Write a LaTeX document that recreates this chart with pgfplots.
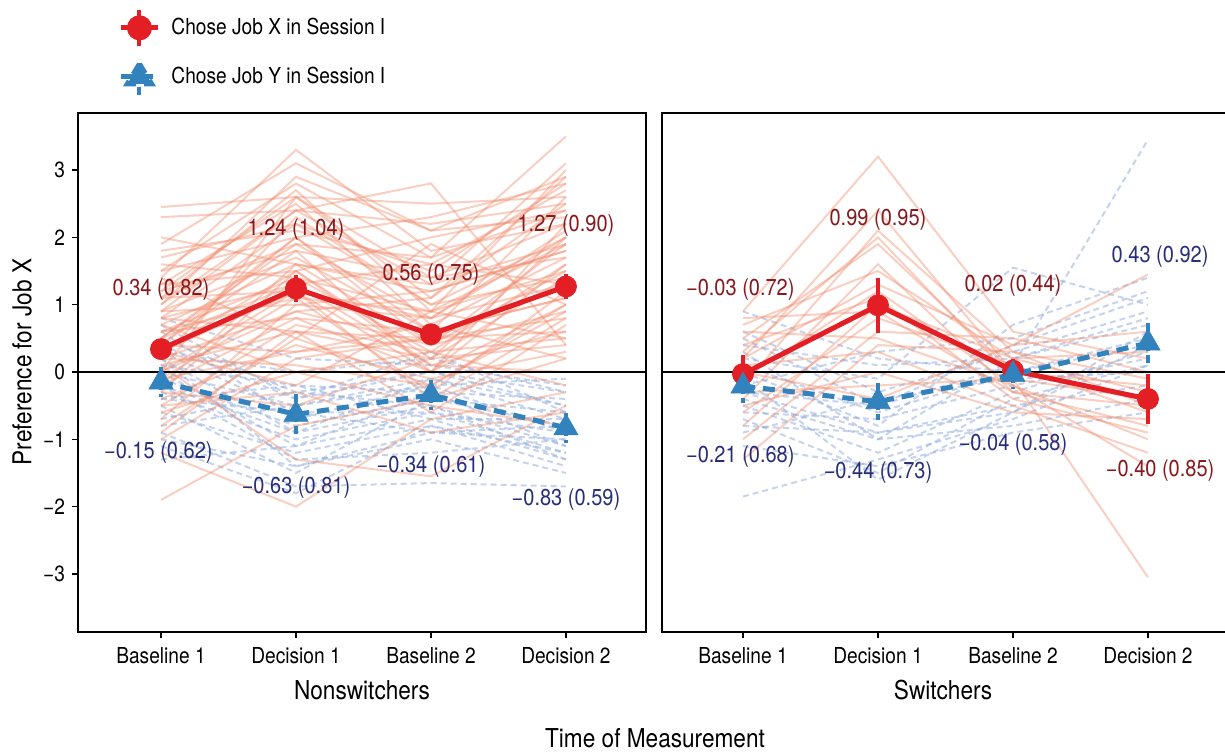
\documentclass[border=0pt]{standalone}
\usepackage{fontspec}
\setmainfont[FakeStretch=0.87]{TeX Gyre Heros}
\usepackage{pgfplots}
\pgfplotsset{compat=1.18}
\definecolor{mred}{RGB}{227,30,36}
\definecolor{mblue}{RGB}{50,130,190}
\definecolor{lred}{RGB}{240,140,110}
\definecolor{lblue}{RGB}{150,175,220}
\definecolor{tred}{RGB}{135,25,30}
\definecolor{tblue}{RGB}{40,45,120}
\newcommand\fs{\fontsize{11}{13}\selectfont}
\newcommand\fl{\fontsize{11.5}{13}\selectfont}
\newcommand\ft{\fontsize{13}{15}\selectfont}
\pgfplotsset{
  panel/.style={scale only axis, height=259.5pt, ymin=-3.862, ymax=3.847,
    xtick={1,2,3,4}, xticklabels={Baseline 1,Decision 1,Baseline 2,Decision 2},
    xtick pos=bottom, ytick pos=left, tick align=outside, major tick length=3pt,
    tick style={black, line width=0.75pt}, axis line style={line width=1.2pt},
    every tick label/.append style={font=\fs},
    xticklabel style={yshift=-1pt},
    /pgf/number format/assume math mode=true},
  br/.style={lred, opacity=0.42, line width=1pt, no markers, forget plot},
  bb/.style={lblue, opacity=0.55, line width=1pt, dash pattern=on 3pt off 2pt, no markers, forget plot},
  mr/.style={mred, line width=2.5pt, mark=*, mark size=5.3pt, mark options={solid, fill=mred, line width=0.3pt},
    error bars/.cd, y dir=both, y explicit, error mark=none, error bar style={line width=2pt, mred, solid}},
  mb/.style={mblue, line width=2.5pt, dash pattern=on 6pt off 4pt, mark=triangle*, mark size=7pt, mark options={solid, fill=mblue, line width=0.3pt},
    error bars/.cd, y dir=both, y explicit, error mark=none, error bar style={line width=2pt, mblue, dash pattern=on 4pt off 2pt}},
  zl/.style={black, line width=1.4pt, no markers, forget plot},
}
\begin{document}
\begin{tikzpicture}
\useasboundingbox (0,0) rectangle (612.5pt,375.5pt);
% ---------------- Left panel: Nonswitchers ----------------
\begin{axis}[panel, at={(39pt,59.5pt)}, anchor=south west, width=284pt,
  xmin=0.385, xmax=4.593, ytick={-3,-2,-1,0,1,2,3}, yticklabels={−3,−2,−1,0,1,2,3},
  legend style={at={(axis description cs:0.06,1.211)}, anchor=north west, draw=none, fill=none,
    font=\fs, row sep=4.5pt, legend cell align=left,
    /tikz/every odd column/.append style={column sep=3.5pt}}]
% individual participants, chose Job Y (blue)
\addplot[bb] coordinates {(1,-0.9)(2,-1.7)(3,-1.65)(4,-1.7)};
\addplot[bb] coordinates {(1,0.5)(2,-0.3)(3,0.0)(4,-0.5)};
\addplot[bb] coordinates {(1,-0.3)(2,-1.0)(3,-0.6)(4,-1.2)};
\addplot[bb] coordinates {(1,0.0)(2,-0.5)(3,-0.2)(4,-0.9)};
\addplot[bb] coordinates {(1,-0.6)(2,-1.2)(3,-0.8)(4,-1.4)};
\addplot[bb] coordinates {(1,0.3)(2,0.0)(3,0.2)(4,-0.3)};
\addplot[bb] coordinates {(1,-0.1)(2,-0.8)(3,-0.4)(4,-0.6)};
\addplot[bb] coordinates {(1,-1.0)(2,-1.4)(3,-1.0)(4,-1.5)};
\addplot[bb] coordinates {(1,0.8)(2,0.2)(3,0.1)(4,-0.2)};
\addplot[bb] coordinates {(1,-0.4)(2,-0.6)(3,-0.9)(4,-1.0)};
\addplot[bb] coordinates {(1,0.2)(2,-0.9)(3,-0.1)(4,-0.7)};
\addplot[bb] coordinates {(1,-0.7)(2,-0.3)(3,-0.5)(4,-1.1)};
\addplot[bb] coordinates {(1,-1.3)(2,-1.1)(3,-0.7)(4,-1.3)};
\addplot[bb] coordinates {(1,0.1)(2,-0.2)(3,-0.3)(4,-0.4)};
\addplot[bb] coordinates {(1,-0.5)(2,-1.5)(3,-0.4)(4,-0.8)};
\addplot[bb] coordinates {(1,0.6)(2,-0.7)(3,-0.2)(4,-0.1)};
\addplot[bb] coordinates {(1,-0.2)(2,-1.3)(3,-1.2)(4,-1.0)};
\addplot[bb] coordinates {(1,0.4)(2,-0.4)(3,0.3)(4,-0.6)};
\addplot[bb] coordinates {(1,-0.2)(2,-0.9)(3,-0.5)(4,-1.3)};
\addplot[bb] coordinates {(1,0.3)(2,-0.6)(3,-0.6)(4,-0.9)};
\addplot[bb] coordinates {(1,-0.8)(2,-0.5)(3,-0.1)(4,-0.5)};
\addplot[bb] coordinates {(1,0.0)(2,-1.1)(3,-0.3)(4,-1.1)};
\addplot[bb] coordinates {(1,-0.4)(2,-0.2)(3,-0.7)(4,-0.7)};
\addplot[bb] coordinates {(1,0.7)(2,-0.4)(3,0.0)(4,-0.3)};
\addplot[bb] coordinates {(1,-1.1)(2,-1.8)(3,-0.8)(4,-1.2)};
\addplot[bb] coordinates {(1,0.2)(2,-1.4)(3,-0.9)(4,-0.8)};
% individual participants, chose Job X (red)
\addplot[br] coordinates {(1,2.45)(2,2.6)(3,2.5)(4,2.6)};
\addplot[br] coordinates {(1,2.3)(2,2.4)(3,2.2)(4,2.5)};
\addplot[br] coordinates {(1,1.0)(2,2.4)(3,2.8)(4,0.4)};
\addplot[br] coordinates {(1,1.4)(2,3.3)(3,1.8)(4,2.2)};
\addplot[br] coordinates {(1,1.9)(2,3.1)(3,2.1)(4,2.9)};
\addplot[br] coordinates {(1,1.5)(2,2.8)(3,1.7)(4,3.5)};
\addplot[br] coordinates {(1,1.1)(2,2.7)(3,0.9)(4,3.0)};
\addplot[br] coordinates {(1,0.8)(2,2.2)(3,1.5)(4,2.8)};
\addplot[br] coordinates {(1,0.5)(2,2.0)(3,0.6)(4,2.6)};
\addplot[br] coordinates {(1,1.2)(2,1.8)(3,1.4)(4,2.2)};
\addplot[br] coordinates {(1,0.3)(2,1.5)(3,0.2)(4,2.0)};
\addplot[br] coordinates {(1,0.9)(2,1.0)(3,1.2)(4,1.8)};
\addplot[br] coordinates {(1,-0.2)(2,1.6)(3,0.4)(4,1.5)};
\addplot[br] coordinates {(1,0.0)(2,1.2)(3,0.8)(4,1.3)};
\addplot[br] coordinates {(1,0.6)(2,0.8)(3,0.0)(4,1.0)};
\addplot[br] coordinates {(1,-0.5)(2,0.7)(3,0.3)(4,1.6)};
\addplot[br] coordinates {(1,0.4)(2,0.3)(3,0.5)(4,0.8)};
\addplot[br] coordinates {(1,-0.8)(2,0.5)(3,-0.2)(4,0.9)};
\addplot[br] coordinates {(1,0.2)(2,2.3)(3,1.0)(4,1.4)};
\addplot[br] coordinates {(1,-1.0)(2,0.2)(3,0.5)(4,0.6)};
\addplot[br] coordinates {(1,1.6)(2,1.4)(3,0.9)(4,1.9)};
\addplot[br] coordinates {(1,-0.3)(2,-0.5)(3,0.2)(4,0.4)};
\addplot[br] coordinates {(1,-1.9)(2,-0.8)(3,-0.4)(4,0.2)};
\addplot[br] coordinates {(1,-1.2)(2,-2.0)(3,-0.7)(4,-0.3)};
\addplot[br] coordinates {(1,0.1)(2,-1.3)(3,-1.55)(4,-0.5)};
\addplot[br] coordinates {(1,-0.6)(2,0.0)(3,-0.5)(4,-0.8)};
\addplot[br] coordinates {(1,1.3)(2,2.5)(3,0.7)(4,1.7)};
\addplot[br] coordinates {(1,0.5)(2,1.9)(3,1.7)(4,2.4)};
\addplot[br] coordinates {(1,-0.1)(2,1.1)(3,-0.3)(4,1.2)};
\addplot[br] coordinates {(1,0.8)(2,1.3)(3,0.1)(4,0.0)};
\addplot[br] coordinates {(1,0.2)(2,0.9)(3,1.1)(4,2.9)};
\addplot[br] coordinates {(1,1.8)(2,2.1)(3,1.6)(4,2.7)};
\addplot[br] coordinates {(1,-0.4)(2,0.4)(3,-0.1)(4,0.3)};
\addplot[br] coordinates {(1,0.9)(2,1.7)(3,0.6)(4,1.1)};
\addplot[br] coordinates {(1,0.1)(2,0.6)(3,-0.6)(4,0.7)};
\addplot[br] coordinates {(1,1.0)(2,2.9)(3,2.1)(4,2.3)};
\addplot[br] coordinates {(1,-0.7)(2,1.0)(3,0.8)(4,2.1)};
\addplot[br] coordinates {(1,0.6)(2,1.4)(3,0.3)(4,-0.2)};
\addplot[br] coordinates {(1,0.3)(2,-0.2)(3,0.9)(4,1.5)};
\addplot[br] coordinates {(1,1.4)(2,0.5)(3,1.9)(4,1.0)};
\addplot[br] coordinates {(1,0.7)(2,1.6)(3,1.3)(4,1.9)};
\addplot[br] coordinates {(1,-0.2)(2,0.8)(3,0.6)(4,1.1)};
\addplot[br] coordinates {(1,0.4)(2,2.0)(3,0.4)(4,0.9)};
\addplot[br] coordinates {(1,1.1)(2,1.2)(3,0.0)(4,1.6)};
\addplot[br] coordinates {(1,1.7)(2,2.2)(3,1.0)(4,2.0)};
\addplot[br] coordinates {(1,0.0)(2,0.9)(3,0.4)(4,1.9)};
\addplot[br] coordinates {(1,0.5)(2,1.3)(3,1.6)(4,1.3)};
\addplot[br] coordinates {(1,-0.3)(2,1.5)(3,0.1)(4,0.6)};
\addplot[br] coordinates {(1,1.2)(2,2.6)(3,1.1)(4,2.5)};
\addplot[br] coordinates {(1,0.2)(2,0.1)(3,-0.2)(4,1.0)};
\addplot[br] coordinates {(1,0.9)(2,2.4)(3,1.3)(4,3.1)};
\addplot[br] coordinates {(1,-0.9)(2,0.6)(3,0.2)(4,1.4)};
\addplot[br] coordinates {(1,0.6)(2,1.1)(3,0.9)(4,0.5)};
\addplot[br] coordinates {(1,2.0)(2,1.6)(3,1.2)(4,1.8)};
\addplot[br] coordinates {(1,0.4)(2,1.8)(3,0.0)(4,2.2)};
\addplot[br] coordinates {(1,-0.1)(2,0.3)(3,0.7)(4,0.2)};
\addplot[br] coordinates {(1,1.5)(2,2.0)(3,2.3)(4,2.8)};
\addplot[br] coordinates {(1,0.3)(2,1.2)(3,-0.4)(4,0.8)};
\addplot[br] coordinates {(1,0.8)(2,0.6)(3,0.5)(4,1.3)};
\addplot[br] coordinates {(1,-0.5)(2,-0.3)(3,-0.9)(4,-0.6)};
\addplot[br] coordinates {(1,1.1)(2,1.9)(3,0.8)(4,2.0)};
\addplot[br] coordinates {(1,0.0)(2,2.6)(3,1.4)(4,1.7)};
\addplot[br] coordinates {(1,0.7)(2,0.0)(3,0.3)(4,0.5)};
\addplot[br] coordinates {(1,1.3)(2,1.5)(3,2.0)(4,2.4)};
\addplot[zl] coordinates {(0,0)(5,0)};
% means
\addplot[legend image code/.code={
    \draw[mred, line width=2.5pt] (0pt,0pt) -- (18.5pt,0pt);
    \draw[mred, line width=2pt] (9.25pt,-9pt) -- (9.25pt,9pt);
    \fill[mred] (9.25pt,0pt) circle (5pt);}, mr]
  coordinates {(1,0.34) +- (0,0.15) (2,1.24) +- (0,0.2) (3,0.56) +- (0,0.15) (4,1.27) +- (0,0.18)};
\addlegendentry{Chose Job X in Session I}
\addplot[legend image code/.code={
    \draw[mblue, line width=2.5pt] (0pt,0pt) -- (18.5pt,0pt);
    \draw[mblue, line width=2pt, dash pattern=on 4pt off 2pt] (9.25pt,-9pt) -- (9.25pt,9pt);
    \fill[mblue] (9.25pt,6.5pt) -- (3.2pt,-3.5pt) -- (15.3pt,-3.5pt) -- cycle;}, mb]
  coordinates {(1,-0.15) +- (0,0.22) (2,-0.63) +- (0,0.3) (3,-0.34) +- (0,0.22) (4,-0.83) +- (0,0.22)};
\addlegendentry{Chose Job Y in Session I}
% value labels
\node[tred, font=\fl] at (axis cs:1,1.22) {0.34 (0.82)};
\node[tred, font=\fl] at (axis cs:2,2.12) {1.24 (1.04)};
\node[tred, font=\fl] at (axis cs:3,1.44) {0.56 (0.75)};
\node[tred, font=\fl] at (axis cs:4,2.17) {1.27 (0.90)};
\node[tblue, font=\fl] at (axis cs:0.98,-1.19) {−0.15 (0.62)};
\node[tblue, font=\fl] at (axis cs:2,-1.71) {−0.63 (0.81)};
\node[tblue, font=\fl] at (axis cs:3,-1.40) {−0.34 (0.61)};
\node[tblue, font=\fl] at (axis cs:4,-1.89) {−0.83 (0.59)};
\end{axis}
% ---------------- Right panel: Switchers ----------------
\begin{axis}[panel, at={(331pt,59.5pt)}, anchor=south west, width=283pt,
  xmin=0.4, xmax=4.593, ytick=\empty]
\addplot[bb] coordinates {(1,-0.3)(2,-0.5)(3,0.1)(4,3.45)};
\addplot[bb] coordinates {(1,-1.85)(2,-1.3)(3,-0.7)(4,0.1)};
\addplot[bb] coordinates {(1,0.2)(2,-0.1)(3,1.55)(4,1.0)};
\addplot[bb] coordinates {(1,-0.5)(2,-1.2)(3,-0.3)(4,0.3)};
\addplot[bb] coordinates {(1,0.4)(2,0.1)(3,0.2)(4,0.8)};
\addplot[bb] coordinates {(1,-0.8)(2,-0.9)(3,-0.5)(4,-0.2)};
\addplot[bb] coordinates {(1,0.1)(2,-0.6)(3,0.0)(4,0.5)};
\addplot[bb] coordinates {(1,-0.2)(2,0.3)(3,0.5)(4,1.2)};
\addplot[bb] coordinates {(1,-1.1)(2,-1.4)(3,-0.9)(4,-0.6)};
\addplot[bb] coordinates {(1,0.6)(2,-0.3)(3,0.3)(4,0.9)};
\addplot[bb] coordinates {(1,-0.6)(2,-0.7)(3,-0.2)(4,0.2)};
\addplot[bb] coordinates {(1,0.9)(2,0.2)(3,0.0)(4,0.4)};
\addplot[bb] coordinates {(1,-0.4)(2,-1.0)(3,-0.8)(4,-0.4)};
\addplot[bb] coordinates {(1,0.0)(2,-0.8)(3,0.7)(4,1.4)};
\addplot[bb] coordinates {(1,-0.9)(2,-0.4)(3,-0.1)(4,0.0)};
\addplot[bb] coordinates {(1,-0.1)(2,-1.6)(3,-0.6)(4,0.6)};
\addplot[bb] coordinates {(1,-0.7)(2,-1.5)(3,-0.4)(4,0.1)};
\addplot[bb] coordinates {(1,0.3)(2,-1.0)(3,0.2)(4,0.7)};
\addplot[bb] coordinates {(1,-0.3)(2,-0.9)(3,-0.6)(4,0.4)};
\addplot[bb] coordinates {(1,0.5)(2,-0.5)(3,0.4)(4,1.1)};
\addplot[br] coordinates {(1,0.9)(2,3.2)(3,0.6)(4,0.2)};
\addplot[br] coordinates {(1,0.3)(2,2.0)(3,-0.1)(4,-3.05)};
\addplot[br] coordinates {(1,-0.2)(2,2.1)(3,0.3)(4,-0.5)};
\addplot[br] coordinates {(1,0.5)(2,1.9)(3,0.0)(4,-0.2)};
\addplot[br] coordinates {(1,-0.4)(2,1.6)(3,-0.3)(4,-0.8)};
\addplot[br] coordinates {(1,0.2)(2,1.3)(3,0.4)(4,1.45)};
\addplot[br] coordinates {(1,-0.6)(2,0.8)(3,0.1)(4,-0.6)};
\addplot[br] coordinates {(1,0.6)(2,0.5)(3,-0.2)(4,-1.0)};
\addplot[br] coordinates {(1,-0.8)(2,1.0)(3,0.2)(4,-0.3)};
\addplot[br] coordinates {(1,0.1)(2,0.3)(3,-0.5)(4,-1.2)};
\addplot[br] coordinates {(1,-1.0)(2,0.6)(3,0.5)(4,0.0)};
\addplot[br] coordinates {(1,0.4)(2,1.1)(3,-0.4)(4,-0.9)};
\addplot[br] coordinates {(1,-0.3)(2,-0.2)(3,-0.1)(4,-0.4)};
\addplot[br] coordinates {(1,0.7)(2,1.5)(3,0.2)(4,0.3)};
\addplot[br] coordinates {(1,-0.5)(2,0.0)(3,-0.6)(4,-0.7)};
\addplot[br] coordinates {(1,0.2)(2,2.4)(3,0.0)(4,-0.4)};
\addplot[br] coordinates {(1,-1.3)(2,0.4)(3,0.3)(4,-0.1)};
\addplot[br] coordinates {(1,0.8)(2,0.9)(3,-0.3)(4,-0.5)};
\addplot[br] coordinates {(1,0.0)(2,-0.4)(3,0.4)(4,0.6)};
\addplot[br] coordinates {(1,-0.1)(2,1.2)(3,-0.2)(4,-1.4)};
\addplot[zl] coordinates {(0,0)(5,0)};
\addplot[mr] coordinates {(1,-0.03) +- (0,0.28) (2,0.99) +- (0,0.41) (3,0.02) +- (0,0.17) (4,-0.40) +- (0,0.37)};
\addplot[mb] coordinates {(1,-0.21) +- (0,0.25) (2,-0.44) +- (0,0.28) (3,-0.04) +- (0,0.22) (4,0.43) +- (0,0.35)};
\node[tred, font=\fl] at (axis cs:0.98,1.23) {−0.03 (0.72)};
\node[tred, font=\fl] at (axis cs:2,2.27) {0.99 (0.95)};
\node[tred, font=\fl] at (axis cs:3,1.29) {0.02 (0.44)};
\node[tblue, font=\fl] at (axis cs:4.09,1.72) {0.43 (0.92)};
\node[tblue, font=\fl] at (axis cs:0.98,-1.26) {−0.21 (0.68)};
\node[tblue, font=\fl] at (axis cs:2,-1.50) {−0.44 (0.73)};
\node[tblue, font=\fl] at (axis cs:3,-1.08) {−0.04 (0.58)};
\node[tred, font=\fl] at (axis cs:4.09,-1.46) {−0.40 (0.85)};
\end{axis}
% axis titles
\node[font=\ft, rotate=90] at (11pt,194.5pt) {Preference for Job X};
\node[font=\ft] at (181pt,30.5pt) {Nonswitchers};
\node[font=\ft] at (471.5pt,30.5pt) {Switchers};
\node[font=\ft] at (327.5pt,6.5pt) {Time of Measurement};
\end{tikzpicture}
\end{document}
